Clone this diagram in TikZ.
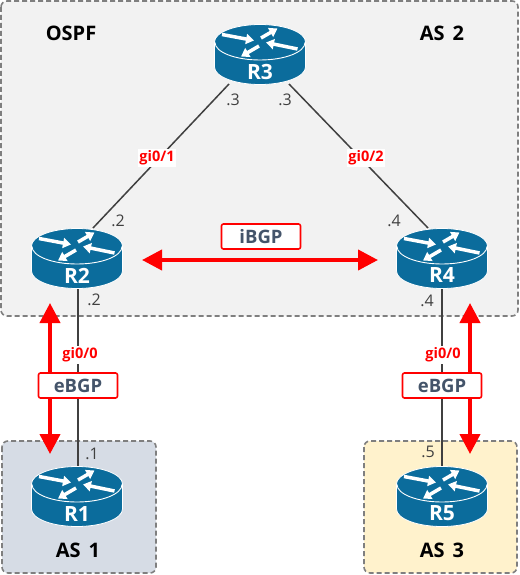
\documentclass[tikz,border=0pt]{standalone}
\usepackage{fontspec}
\setmainfont{Open Sans}
\usetikzlibrary{arrows.meta}
\definecolor{routerblue}{HTML}{0B6C9C}
\definecolor{slate}{HTML}{44546A}
\definecolor{dgray}{HTML}{7F7F7F}
\definecolor{linegray}{HTML}{404040}
\newcommand{\zonefont}{\fontsize{20}{22}\selectfont\bfseries\spaceskip 8pt\relax}
\tikzset{
  x=1pt,y=-1pt,
  zone/.style={draw=dgray,line width=1.6pt,dash pattern=on 5pt off 3pt,rounded corners=6pt},
  link/.style={draw=linegray,line width=1.5pt},
  bgp/.style={draw=red,line width=4pt,{Triangle[length=20pt,width=20pt]}-{Triangle[length=20pt,width=20pt]}},
  bgpbox/.style={draw=red,line width=1.6pt,fill=white,rounded corners=2pt,minimum width=79pt,minimum height=25pt,inner sep=0pt,text=slate,font=\fontsize{18.5}{20}\selectfont\bfseries},
  iface/.style={fill=white,text=red,inner sep=1.5pt,font=\fontsize{14.5}{16}\selectfont\bfseries},
  addr/.style={text=linegray,inner sep=0pt,font=\fontsize{16}{18}\selectfont},
  zonetext/.style={text=black,inner sep=0pt,font=\zonefont},
  rlabel/.style={text=white,inner sep=0pt,font=\fontsize{21}{23}\selectfont\bfseries},
  rarrow/.style={draw=white,line width=3.5pt,-{Triangle[length=8pt,width=10pt]}},
}
% #1 node name, #2 centre x, #3 top y, #4 label
\newcommand{\routericon}[4]{%
  \begin{scope}[shift={(#2,#3)}]
    \fill[routerblue,draw=white,line width=.8pt] (-45.5,17) -- (-45.5,42) arc[start angle=180,end angle=0,x radius=45.5,y radius=17.5] -- (45.5,17) arc[start angle=0,end angle=-180,x radius=45.5,y radius=17.5] -- cycle;
    \draw[white,line width=.9pt] (-45,17.5) arc[start angle=180,end angle=0,x radius=45,y radius=17.5];
    \draw[rarrow] (-38,9.5) -- (-6,15.5);
    \draw[rarrow] (1,13) -- (17.5,3.5);
    \draw[rarrow] (37.5,24) -- (6,17.5);
    \draw[rarrow] (-1,21) -- (-19,31.5);
    \node[rlabel] (#1) at (0,46.5) {#4};
  \end{scope}}
\begin{document}
\begin{tikzpicture}
\useasboundingbox (0,0) rectangle (519,575);
\fill[white] (0,0) rectangle (519,575);
\draw[zone,fill=black!5] (1,1) rectangle (518,316);
\draw[zone,fill={rgb,255:red,214;green,220;blue,229}] (2,441) rectangle (156,573);
\draw[zone,fill={rgb,255:red,255;green,242;blue,204}] (364,441) rectangle (517,573);

\coordinate (r3l) at (229,84);
\coordinate (r3r) at (289,84);
\coordinate (r2t) at (93,228);
\coordinate (r4t) at (428,228);
\coordinate (r2b) at (78,289);
\coordinate (r4b) at (442,289);
\coordinate (r1t) at (78,467);
\coordinate (r5t) at (442,467);
\draw[link] (r3l) -- (r2t);
\draw[link] (r3r) -- (r4t);
\draw[link] (r2b) -- (r1t);
\draw[link] (r4b) -- (r5t);

\routericon{R3}{260}{25}{R3}
\routericon{R2}{77}{229}{R2}
\routericon{R4}{442}{229}{R4}
\routericon{R1}{77}{467}{R1}
\routericon{R5}{442}{467}{R5}

\coordinate (ib1) at (142,260);
\coordinate (ib2) at (378,260);
\coordinate (eb1t) at (50,303);
\coordinate (eb1b) at (50,454);
\coordinate (eb2t) at (470,303);
\coordinate (eb2b) at (470,454);
\draw[bgp] (ib1) -- (ib2);
\draw[bgp] (eb1t) -- (eb1b);
\draw[bgp] (eb2t) -- (eb2b);

\node[bgpbox] (ibgp) at (261,236.5) {iBGP};
\node[bgpbox] (ebgp1) at (78,385.5) {eBGP};
\node[bgpbox] (ebgp2) at (442,385.5) {eBGP};

\node[iface] (g1) at (157,158) {gi0/1};
\node[iface] (g2) at (366,158) {gi0/2};
\node[iface] (g3) at (80,355) {gi0/0};
\node[iface] (g4) at (443,355) {gi0/0};

\node[addr] (a1) at (233,100) {.3};
\node[addr] (a2) at (285,100) {.3};
\node[addr] (a3) at (118,221) {.2};
\node[addr] (a4) at (394,221) {.4};
\node[addr] (a5) at (94,300) {.2};
\node[addr] (a6) at (427,301) {.4};
\node[addr] (a7) at (92,454) {.1};
\node[addr] (a8) at (428,452) {.5};

\node[zonetext] (ospf) at (71,33) {OSPF};
\node[zonetext] (as2) at (442,33) {AS 2};
\node[zonetext] (as1) at (78,550) {AS 1};
\node[zonetext] (as3) at (442,550) {AS 3};
\end{tikzpicture}
\end{document}
